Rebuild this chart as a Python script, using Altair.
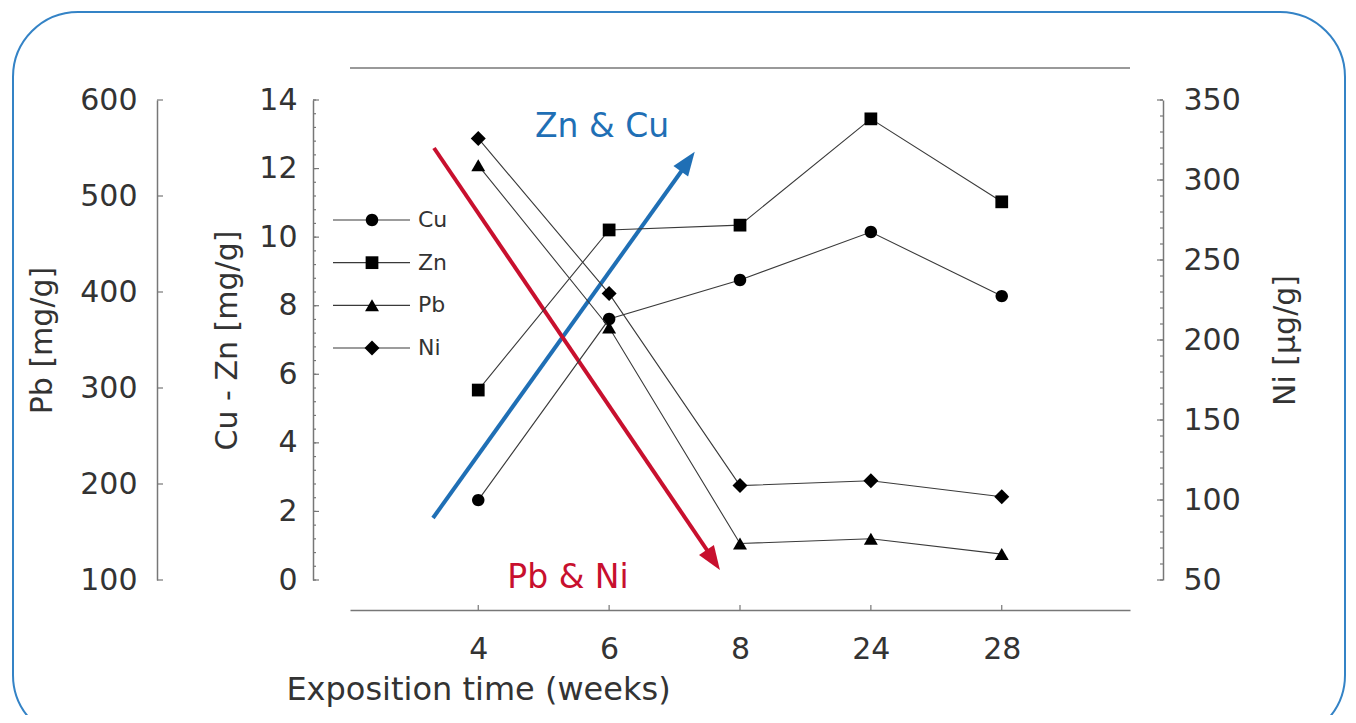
import altair as alt
import pandas as pd

# ---------------- data ----------------
weeks = ["4", "6", "8", "24", "28"]
cu = [2.33, 7.61, 8.75, 10.15, 8.28]
zn = [5.54, 10.21, 10.35, 13.45, 11.03]
pb = [532, 363, 138, 143, 127]
ni = [326, 229, 109, 112, 102]

series_names = ["Cu", "Zn", "Pb", "Ni"]
series_shapes = [
    "M0.83,0A0.83,0.83 0 1,1 -0.83,0A0.83,0.83 0 1,1 0.83,0Z",
    "M-0.85,-0.85H0.85V0.85H-0.85Z",
    "M0,-0.8L0.93,0.8L-0.93,0.8Z",
    "M0,-1L1,0L0,1L-1,0Z",
]
MARKER_SIZE = 225

cuzn_major = [0, 2, 4, 6, 8, 10, 12, 14]
cuzn_minor = [round(i * 0.4, 1) for i in range(36)]
pb_major = [100, 200, 300, 400, 500, 600]
ni_major = [50, 100, 150, 200, 250, 300, 350]
ni_minor = list(range(50, 351, 10))

FONT = "DejaVu Sans"
TXT = "#333333"
AX = "#777777"
BLUE = "#1f6fb5"
RED = "#c8102e"
W, H = 780, 480

cuzn_df = pd.DataFrame({
    "week": weeks * 2,
    "value": cu + zn,
    "series": ["Cu"] * 5 + ["Zn"] * 5,
})
pb_df = pd.DataFrame({"week": weeks, "value": pb, "series": ["Pb"] * 5})
ni_df = pd.DataFrame({"week": weeks, "value": ni, "series": ["Ni"] * 5})
one = pd.DataFrame({"a": [0]})

shape_enc = alt.Shape("series:N", scale=alt.Scale(domain=series_names, range=series_shapes), legend=None)

x_enc = alt.X(
    "week:O",
    scale=alt.Scale(type="point", domain=weeks, padding=0.98),
    axis=alt.Axis(
        orient="bottom", offset=30, ticks=False, tickSize=0, domainColor=AX, domainWidth=1.5,
        labelAngle=0, labelFontSize=30, labelPadding=24, labelColor=TXT, labelFont=FONT,
        title="Exposition time (weeks)", titleFontSize=32, titleFontWeight="normal",
        titleColor=TXT, titleFont=FONT, titleX=128, titleAlign="center", titlePadding=10,
        grid=False,
    ),
)


def y_axis(orient, offset, values, title, label_pad, title_pad, extra=None):
    kw = dict(
        orient=orient, offset=offset, values=values, ticks=False, tickSize=0,
        domainColor=AX, domainWidth=1.5, labelFontSize=30, labelPadding=label_pad,
        labelColor=TXT, labelFont=FONT, labelFlush=False, labelOverlap=False,
        title=title, titleFontSize=30, titleFontWeight="normal", titleColor=TXT,
        titleFont=FONT, titlePadding=title_pad, grid=False,
    )
    if extra:
        kw.update(extra)
    return alt.Axis(**kw)


cuzn_scale = alt.Scale(domain=[0, 14], nice=False, zero=False)
pb_scale = alt.Scale(domain=[100, 600], nice=False, zero=False)
ni_scale = alt.Scale(domain=[50, 350], nice=False, zero=False)


def series_layer(df, scale, axis):
    y = alt.Y("value:Q", scale=scale, axis=axis)
    line = alt.Chart(df).mark_line(color="#3a3a3a", strokeWidth=1.1).encode(
        x=x_enc, y=y, detail="series:N")
    pts = alt.Chart(df).mark_point(filled=True, color="black", opacity=1, size=MARKER_SIZE).encode(
        x=x_enc, y=y, shape=shape_enc)
    return alt.layer(line, pts)


cuzn_layer = series_layer(cuzn_df, cuzn_scale,
                          y_axis("left", 37, cuzn_major, "Cu - Zn [mg/g]", 16, 16))
pb_layer = series_layer(pb_df, pb_scale,
                        y_axis("left", 193, pb_major, "Pb [mg/g]", 20, 22))
ni_layer = series_layer(ni_df, ni_scale,
                        y_axis("right", 33, ni_major, "Ni [µg/g]", 20, 30,
                               extra=dict(titleAngle=270, titleBaseline="top")))


def tick_layer(values, scale, x0, x1):
    return alt.Chart(pd.DataFrame({"v": values})).mark_rule(color=AX, strokeWidth=1.2).encode(
        y=alt.Y("v:Q", scale=scale, axis=None), x=alt.value(x0), x2=alt.value(x1))


ticks = [
    tick_layer(pb_major, pb_scale, -193, -187),
    tick_layer(cuzn_major, cuzn_scale, -37, -31),
    tick_layer(cuzn_minor, cuzn_scale, -37, -34),
    tick_layer(ni_major, ni_scale, W + 33, W + 27),
    tick_layer(ni_minor, ni_scale, W + 33, W + 30),
]

x_ticks = alt.Chart(pd.DataFrame({"week": weeks})).mark_rule(color=AX, strokeWidth=1.2).encode(
    x=x_enc, y=alt.value(H + 30), y2=alt.value(H + 25))

# frame: top line and rounded border
top_line = alt.Chart(one).mark_rule(color=AX, strokeWidth=1.5).encode(
    x=alt.value(0), x2=alt.value(W), y=alt.value(-32))
border = alt.Chart(one).mark_rect(
    fillOpacity=0, stroke="#3483c6", strokeWidth=2, cornerRadius=65).encode(
    x=alt.value(-337), x2=alt.value(995), y=alt.value(-88), y2=alt.value(640))

# trend arrows
ARROW = "M0,-1L0.6,0.6L-0.6,0.6Z"
blue_line = alt.Chart(one).mark_rule(color=BLUE, strokeWidth=4).encode(
    x=alt.value(83), y=alt.value(418), x2=alt.value(333), y2=alt.value(69))
blue_head = alt.Chart(one).mark_point(shape=ARROW, angle=35.6, size=900, filled=True,
                                      color=BLUE, opacity=1).encode(
    x=alt.value(336), y=alt.value(64))
red_line = alt.Chart(one).mark_rule(color=RED, strokeWidth=4).encode(
    x=alt.value(84), y=alt.value(48), x2=alt.value(359), y2=alt.value(453))
red_head = alt.Chart(one).mark_point(shape=ARROW, angle=145.9, size=900, filled=True,
                                     color=RED, opacity=1).encode(
    x=alt.value(361.5), y=alt.value(457.5))
blue_txt = alt.Chart(one).mark_text(text="Zn & Cu", fontSize=33, font=FONT, color=BLUE).encode(
    x=alt.value(252), y=alt.value(27))
red_txt = alt.Chart(one).mark_text(text="Pb & Ni", fontSize=33, font=FONT, color=RED).encode(
    x=alt.value(218), y=alt.value(478))

# custom legend
leg_df = pd.DataFrame({"series": series_names})
ly = alt.Y("series:N", scale=alt.Scale(type="point", domain=series_names, range=[120, 248], padding=0),
           axis=None)
leg_lines = alt.Chart(leg_df).mark_rule(color="#3a3a3a", strokeWidth=1.1).encode(
    y=ly, x=alt.value(-17), x2=alt.value(60))
leg_pts = alt.Chart(leg_df).mark_point(filled=True, color="black", opacity=1, size=MARKER_SIZE).encode(
    y=ly, x=alt.value(22), shape=shape_enc)
leg_txt = alt.Chart(leg_df).mark_text(align="left", baseline="middle", fontSize=22, font=FONT,
                                      color=TXT).encode(
    y=ly, x=alt.value(68), text="series:N")
legend = alt.layer(leg_lines, leg_pts, leg_txt)

chart = alt.layer(
    border, top_line, *ticks, x_ticks,
    blue_line, red_line, blue_head, red_head, blue_txt, red_txt,
    cuzn_layer, pb_layer, ni_layer, legend,
).resolve_scale(y="independent").properties(
    width=W, height=H,
    autosize=alt.AutoSizeParams(type="none"),
    padding={"left": 342, "top": 92, "right": 218, "bottom": 135},
    background="white",
).configure_view(stroke=None)

chart.save("out.html", embed_options={"renderer": "svg", "actions": False})
